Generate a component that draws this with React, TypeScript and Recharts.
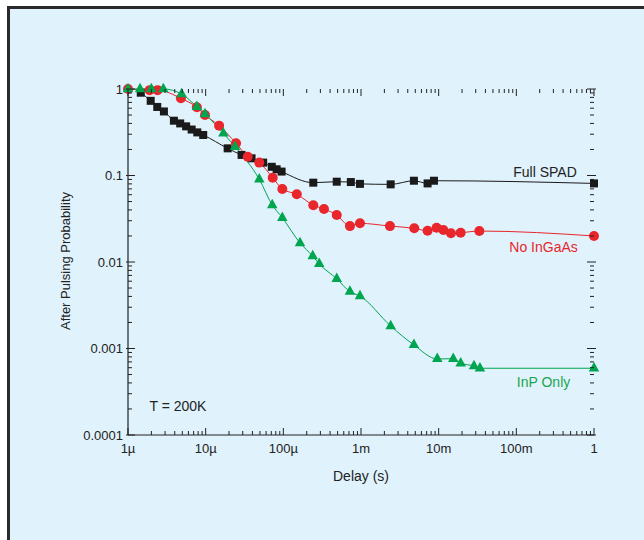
import React from 'react';
import { LineChart, Line, XAxis, YAxis, ReferenceDot } from 'recharts';

// ---- data ----
const fullSpadX = [1.46e-6, 1.96e-6, 2.38e-6, 2.9e-6, 3.9e-6, 4.7e-6, 5.6e-6, 6.6e-6, 7.8e-6, 9.3e-6, 1.92e-5, 2.9e-5, 3.9e-5, 5.5e-5, 7.1e-5, 8.2e-5, 9.5e-5, 2.43e-4, 4.87e-4, 7.4e-4, 9.7e-4, 2.41e-3, 4.8e-3, 7.2e-3, 8.7e-3, 1];
const fullSpadY = [0.906, 0.73, 0.62, 0.55, 0.43, 0.4, 0.37, 0.34, 0.315, 0.294, 0.206, 0.173, 0.158, 0.141, 0.126, 0.118, 0.111, 0.0826, 0.0848, 0.084, 0.08, 0.079, 0.087, 0.081, 0.087, 0.081];

const noInGaAsX = [1e-6, 1.9e-6, 2.4e-6, 4.8e-6, 7.7e-6, 9.8e-6, 1.49e-5, 2.46e-5, 3.48e-5, 4.9e-5, 7.3e-5, 9.7e-5, 1.49e-4, 2.43e-4, 3.34e-4, 4.87e-4, 7.2e-4, 9.7e-4, 2.36e-3, 4.85e-3, 7.2e-3, 9.4e-3, 1.15e-2, 1.44e-2, 1.92e-2, 3.34e-2, 1];
const noInGaAsY = [1.0, 0.97, 0.97, 0.78, 0.614, 0.5, 0.377, 0.236, 0.165, 0.141, 0.0944, 0.0698, 0.0606, 0.0454, 0.041, 0.0349, 0.026, 0.028, 0.026, 0.0245, 0.023, 0.0249, 0.0234, 0.0215, 0.0218, 0.0228, 0.02];

const inpOnlyX = [1e-6, 1.43e-6, 2.0e-6, 2.85e-6, 4.9e-6, 7.7e-6, 9.8e-6, 1.69e-5, 2.39e-5, 4.9e-5, 7.2e-5, 9.7e-5, 1.64e-4, 2.39e-4, 2.9e-4, 4.87e-4, 7.2e-4, 9.7e-4, 2.41e-3, 4.8e-3, 9.6e-3, 1.54e-2, 1.92e-2, 2.85e-2, 3.4e-2, 1];
const inpOnlyY = [1.0, 1.0, 1.0, 1.0, 0.875, 0.624, 0.514, 0.307, 0.215, 0.0904, 0.0456, 0.0325, 0.0166, 0.0117, 0.0095, 0.0064, 0.00454, 0.00404, 0.00182, 0.0011, 0.000757, 0.000762, 0.000674, 0.000628, 0.000591, 0.000591];

const xTickLabels = ['1µ', '10µ', '100µ', '1m', '10m', '100m', '1'];
const yTickLabels = ['0.0001', '0.001', '0.01', '0.1', '1'];
const xDecadeExps = [-6, -5, -4, -3, -2, -1, 0];
const yDecadeExps = [-4, -3, -2, -1, 0];

const annotations = [
  { text: 'Full SPAD', x: 0.234, y: 0.11, color: '#222222' },
  { text: 'No InGaAs', x: 0.224, y: 0.0149, color: '#e8262c' },
  { text: 'InP Only', x: 0.224, y: 0.00041, color: '#1aa64f' },
  { text: 'T = 200K', x: 4.4e-6, y: 0.000216, color: '#222222' },
];

// ---- layout constants ----
const CHART_W = 644;
const CHART_H = 540;
const MARGIN = { top: 89, right: 50, bottom: 75, left: 68 };
const X_AXIS_H = 30;
const Y_AXIS_W = 60;
const PLOT_W = CHART_W - MARGIN.left - Y_AXIS_W - MARGIN.right; // 466
const PLOT_H = CHART_H - MARGIN.top - MARGIN.bottom - X_AXIS_H; // 346

// ---- helpers ----
const toPoints = (xs: number[], ys: number[]) => xs.map((x, i) => ({ x, y: ys[i] }));
const fullSpad = toPoints(fullSpadX, fullSpadY);
const noInGaAs = toPoints(noInGaAsX, noInGaAsY);
const inpOnly = toPoints(inpOnlyX, inpOnlyY);

const buildTicks = (exps: number[]) => {
  const out: number[] = [];
  exps.forEach((e, i) => {
    if (i === exps.length - 1) {
      out.push(parseFloat(Math.pow(10, e).toPrecision(3)));
    } else {
      for (let m = 1; m <= 9; m++) out.push(parseFloat((m * Math.pow(10, e)).toPrecision(3)));
    }
  });
  return out;
};
const xTicks = buildTicks(xDecadeExps);
const yTicks = buildTicks(yDecadeExps);

const isMajor = (v: number) => {
  const l = Math.log10(v);
  return Math.abs(l - Math.round(l)) < 1e-6;
};

const AX = '#222222';
const FONT = '"Liberation Sans", Arial, Helvetica, sans-serif';

const BottomTick = (props: any) => {
  const { x, y, payload } = props;
  const v = payload.value;
  const major = isMajor(v);
  const len = major ? 7 : 4;
  const label = xTickLabels[Math.round(Math.log10(v)) - xDecadeExps[0]];
  const yTop = y - PLOT_H;
  return (
    <g>
      <line x1={x} x2={x} y1={y} y2={y - len} stroke={AX} strokeWidth={1} />
      <line x1={x} x2={x} y1={yTop} y2={yTop + len} stroke={AX} strokeWidth={1} />
      {major && (
        <text x={x} y={y + 13} textAnchor="middle" dominantBaseline="central" fill={AX} fontSize={13} fontFamily={FONT}>
          {label}
        </text>
      )}
    </g>
  );
};

const LeftTick = (props: any) => {
  const { x, y, payload } = props;
  const v = payload.value;
  const major = isMajor(v);
  const len = major ? 7 : 4;
  const label = yTickLabels[Math.round(Math.log10(v)) - yDecadeExps[0]];
  const xRight = x + PLOT_W;
  return (
    <g>
      <line x1={major ? x - 2 : x} x2={x + len} y1={y} y2={y} stroke={AX} strokeWidth={1} />
      <line x1={major ? xRight + 2 : xRight} x2={xRight - len} y1={y} y2={y} stroke={AX} strokeWidth={1} />
      {major && (
        <text x={x - 5} y={y} textAnchor="end" dominantBaseline="central" fill={AX} fontSize={13} fontFamily={FONT}>
          {label}
        </text>
      )}
    </g>
  );
};

const SquareDot = (props: any) => {
  const { cx, cy, index } = props;
  if (cx == null || cy == null) return <g key={`sq-${index}`} />;
  return <rect key={`sq-${index}`} x={cx - 4} y={cy - 4} width={8} height={8} fill="#1a1a1a" />;
};

const CircleDot = (props: any) => {
  const { cx, cy, index } = props;
  if (cx == null || cy == null) return <g key={`ci-${index}`} />;
  return <circle key={`ci-${index}`} cx={cx} cy={cy} r={5} fill="#e8262c" />;
};

const TriangleDot = (props: any) => {
  const { cx, cy, index } = props;
  if (cx == null || cy == null) return <g key={`tr-${index}`} />;
  const w = 10.5;
  const h = 9.5;
  const pts = `${cx},${cy - (2 * h) / 3} ${cx - w / 2},${cy + h / 3} ${cx + w / 2},${cy + h / 3}`;
  return <polygon key={`tr-${index}`} points={pts} fill="#00a550" />;
};

const YTitle = () => (
  <text
    x={65}
    y={261}
    transform="rotate(-90, 65, 261)"
    textAnchor="middle"
    dominantBaseline="central"
    fill={AX}
    fontSize={13}
    fontFamily={FONT}
  >
    After Pulsing Probability
  </text>
);

export default function App() {
  return (
    <div style={{ position: 'relative', width: CHART_W, height: CHART_H, overflow: 'hidden', fontFamily: FONT }}>
      <style>{'html,body{margin:0;padding:0;}'}</style>
      <div
        style={{
          position: 'absolute',
          left: 7,
          top: 6,
          width: 2000,
          height: 2000,
          borderLeft: '3px solid #2a2a2a',
          borderTop: '3px solid #2a2a2a',
          background: '#e0f2fc',
          boxSizing: 'border-box',
        }}
      />
      <div style={{ position: 'absolute', left: 0, top: 0 }}>
        <LineChart width={CHART_W} height={CHART_H} margin={MARGIN}>
          <XAxis
            dataKey="x"
            type="number"
            scale="log"
            domain={[1e-6, 1]}
            ticks={xTicks}
            interval={0}
            tickSize={0}
            tickMargin={0}
            tick={<BottomTick />}
            height={X_AXIS_H}
            axisLine={{ stroke: AX, strokeWidth: 1.2 }}
            label={{ value: 'Delay (s)', position: 'bottom', offset: 6, fill: AX, fontSize: 14, fontFamily: FONT }}
          />
          <YAxis
            dataKey="y"
            type="number"
            scale="log"
            domain={[1e-4, 1]}
            ticks={yTicks}
            interval={0}
            tickSize={0}
            tickMargin={0}
            tick={<LeftTick />}
            width={Y_AXIS_W}
            axisLine={{ stroke: AX, strokeWidth: 1.2 }}
            label={{ content: <YTitle /> }}
          />
          <XAxis
            xAxisId="top"
            type="number"
            scale="log"
            orientation="top"
            domain={[1e-6, 1]}
            tick={false}
            tickLine={false}
            height={0}
            axisLine={{ stroke: AX, strokeWidth: 1.2 }}
          />
          <YAxis
            yAxisId="right"
            type="number"
            scale="log"
            orientation="right"
            domain={[1e-4, 1]}
            tick={false}
            tickLine={false}
            width={0}
            axisLine={{ stroke: AX, strokeWidth: 1.2 }}
          />
          <Line
            data={fullSpad}
            dataKey="y"
            type="monotone"
            stroke="#1a1a1a"
            strokeWidth={1}
            dot={SquareDot}
            activeDot={false}
            isAnimationActive={false}
          />
          <Line
            data={noInGaAs}
            dataKey="y"
            type="monotone"
            stroke="#e8262c"
            strokeWidth={1}
            dot={CircleDot}
            activeDot={false}
            isAnimationActive={false}
          />
          <Line
            data={inpOnly}
            dataKey="y"
            type="monotone"
            stroke="#00a550"
            strokeWidth={1}
            dot={TriangleDot}
            activeDot={false}
            isAnimationActive={false}
          />
          {annotations.map((a) => (
            <ReferenceDot
              key={a.text}
              x={a.x}
              y={a.y}
              r={0}
              ifOverflow="visible"
              fill="none"
              stroke="none"
              label={{ value: a.text, position: 'center', fill: a.color, fontSize: 14, fontFamily: FONT }}
            />
          ))}
        </LineChart>
      </div>
    </div>
  );
}
